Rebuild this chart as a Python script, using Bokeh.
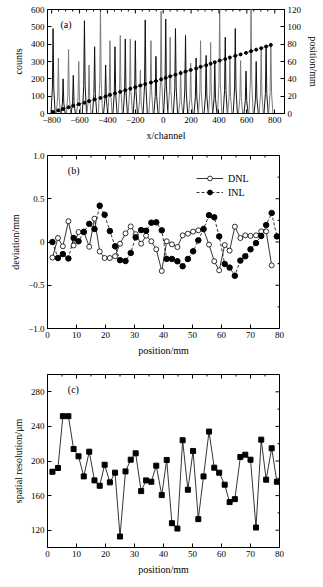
import math
from bokeh.plotting import figure
from bokeh.layouts import column
from bokeh.models import Range1d, LinearAxis, FixedTicker, Legend, LegendItem, Label
from bokeh.embed import file_html
from bokeh.resources import INLINE

FONT = "Liberation Serif"

# ---------------- data ----------------
# panel (a): peak centres (channel) and peak heights (counts)
peak_channels = [-790, -752, -718, -679, -645, -606, -565, -532, -492, -450,
                 -413, -382, -346, -308, -272, -236, -200, -164, -129, -88,
                 -52, -15, 18, 50, 88, 125, 160, 197, 236, 268,
                 308, 340, 370, 405, 445, 478, 517, 555, 594, 630,
                 667, 703, 738, 772]
peak_counts = [490, 320, 200, 370, 220, 300, 535, 280, 385, 610,
               280, 420, 385, 450, 430, 430, 420, 250, 540, 420,
               330, 590, 545, 440, 490, 250, 450, 290, 320, 420,
               335, 410, 290, 610, 440, 330, 490, 305, 245, 610,
               300, 375, 385, 405]

# slit positions (mm)
positions = [1.7, 3.6, 5.3, 7.2, 9.0, 10.7, 12.5, 14.4, 16.2, 18.0,
             19.7, 21.5, 23.3, 25.0, 26.9, 28.7, 30.4, 32.3, 34.0, 35.8,
             37.5, 39.4, 41.1, 42.9, 44.8, 46.6, 48.4, 50.2, 52.0, 53.8,
             55.7, 57.5, 59.2, 61.1, 62.8, 64.6, 66.5, 68.2, 70.0, 71.9,
             73.7, 75.4, 77.3, 79.1]

# panel (b)
dnl = [-0.18, 0.046, -0.05, 0.24, -0.04, 0.115, 0.12, -0.055, 0.27, -0.11,
       -0.185, -0.185, -0.165, -0.02, 0.10, 0.18, 0.09, -0.02, 0.073, 0.008,
       -0.085, -0.335, 0.008, -0.027, -0.058, 0.077, 0.096, 0.12, 0.135, 0.146,
       -0.03, -0.223, -0.327, -0.035, -0.10, 0.177, 0.046, 0.077, 0.07, 0.077,
       0.123, 0.123, -0.27]
inl = [0.0, -0.185, -0.14, -0.19, 0.046, 0.008, 0.115, 0.21, 0.15, 0.42,
       0.315, 0.127, -0.05, -0.21, -0.22, -0.127, 0.054, 0.138, 0.13, 0.223,
       0.227, 0.135, -0.196, -0.196, -0.223, -0.28, -0.196, -0.108, 0.019, 0.15,
       0.31, 0.285, 0.065, -0.254, -0.296, -0.39, -0.215, -0.165, -0.085, -0.012,
       0.07, 0.196, 0.335, 0.065]

# panel (c)
resolution = [187.6, 191.9, 251.8, 251.8, 213.9, 205.4, 182.2, 210.8, 177.6, 171.4,
              195.7, 175.3, 186.5, 112.7, 188.0, 201.5, 208.9, 165.2, 177.6, 176.0,
              194.6, 160.6, 201.2, 128.1, 121.9, 224.0, 166.8, 211.6, 132.8, 182.2,
              234.0, 192.3, 186.5, 172.6, 152.5, 155.9, 204.6, 207.3, 201.5, 123.1,
              224.7, 178.4, 214.7, 176.0]

a_xticks = [-800, -600, -400, -200, 0, 200, 400, 600, 800]
a_yticks = [0, 100, 200, 300, 400, 500, 600]
a_y2ticks = [0, 20, 40, 60, 80, 100, 120]
b_yticks = [-1.0, -0.5, 0.0, 0.5, 1.0]
bc_xticks = [0, 10, 20, 30, 40, 50, 60, 70, 80]
c_yticks = [120, 160, 200, 240, 280]

A_X = (-830, 870)
A_Y = (0, 600)
A_Y2 = (0, 120)
B_X = (0, 80)
B_Y = (-1, 1)
C_Y = (100, 300)


def style_axis(ax):
    ax.axis_line_color = "black"
    ax.axis_line_width = 1
    ax.major_tick_in = 4
    ax.major_tick_out = 0
    ax.minor_tick_in = 2
    ax.minor_tick_out = 0
    ax.major_tick_line_color = "black"
    ax.minor_tick_line_color = "black"
    ax.major_label_text_font = FONT
    ax.major_label_text_font_size = "9px"
    ax.major_label_text_color = "black"
    ax.axis_label_text_font = FONT
    ax.axis_label_text_font_size = "10px"
    ax.axis_label_text_font_style = "normal"
    ax.axis_label_text_color = "black"
    ax.axis_label_standoff = 4
    ax.major_label_standoff = 3


def minors(ticks, n):
    out = []
    for a, b in zip(ticks[:-1], ticks[1:]):
        step = (b - a) / n
        out += [a + step * k for k in range(1, n)]
    return out


def top_ticks(p, ticks, n, yend):
    # mirrored ticks on the top frame edge (clipped dash markers)
    p.scatter(ticks, [yend] * len(ticks), marker="dash", angle=math.pi / 2, size=8,
              line_color="black", line_width=1)
    mt = minors(ticks, n)
    p.scatter(mt, [yend] * len(mt), marker="dash", angle=math.pi / 2, size=4,
              line_color="black", line_width=1)


def right_ticks(p, ticks, n, xend):
    p.scatter([xend] * len(ticks), ticks, marker="dash", size=8,
              line_color="black", line_width=1)
    mt = minors(ticks, n)
    p.scatter([xend] * len(mt), mt, marker="dash", size=4,
              line_color="black", line_width=1)


def minus(v, fmt):
    s = fmt.format(abs(v))
    return ("\u2212" + s) if v < 0 else s


def base_fig(fw, fh, xr, yr, top, bottom, right):
    p = figure(frame_width=fw, frame_height=fh,
               x_range=Range1d(*xr), y_range=Range1d(*yr),
               output_backend="svg", toolbar_location=None,
               min_border_left=47, min_border_right=right,
               min_border_top=top, min_border_bottom=bottom)
    p.xgrid.visible = False
    p.ygrid.visible = False
    p.outline_line_color = "black"
    p.outline_line_width = 1
    return p


# ---------------- panel (a) ----------------
pa = base_fig(237, 104, A_X, A_Y, 9, 32, 37)
pa.extra_y_ranges = {"pos": Range1d(*A_Y2)}

xs, ys, cols = [], [], []
for i, (c, h) in enumerate(zip(peak_channels, peak_counts)):
    xs.append([c - 15, c - 5, c, c + 5, c + 15])
    ys.append([0, 0.3 * h, h, 0.3 * h, 0])
    cols.append("#111111" if i % 2 == 0 else "#7a7a7a")
pa.multi_line(xs=xs, ys=ys, line_color=cols, line_width=1)

pa.line(peak_channels, positions, y_range_name="pos", line_color="#222222",
        line_width=0.8, line_dash="2 2")
pa.scatter(peak_channels, positions, y_range_name="pos", marker="circle", size=3,
           fill_color="black", line_color="black")

pa.xaxis.ticker = FixedTicker(ticks=a_xticks, num_minor_ticks=4)
pa.xaxis.major_label_overrides = {v: minus(v, "{:d}") for v in a_xticks}
pa.xaxis.axis_label = "x/channel"
pa.yaxis.ticker = FixedTicker(ticks=a_yticks, num_minor_ticks=2)
pa.yaxis.axis_label = "counts"
style_axis(pa.xaxis[0])
style_axis(pa.yaxis[0])
ax_r = LinearAxis(y_range_name="pos", ticker=FixedTicker(ticks=a_y2ticks, num_minor_ticks=2),
                  axis_label="position/mm")
style_axis(ax_r)
pa.add_layout(ax_r, "right")
top_ticks(pa, a_xticks, 4, A_Y[1])
pa.add_layout(Label(x=-737, y=513, text="(a)", text_font=FONT, text_font_size="10px",
                    text_baseline="middle", text_color="black"))

# ---------------- panel (b) ----------------
pb = base_fig(232, 173, B_X, B_Y, 10, 36, 42)

dnl_x = positions[:len(dnl)]
r_dl = pb.line(dnl_x, dnl, line_color="black", line_width=0.8)
r_dp = pb.scatter(dnl_x, dnl, marker="circle", size=5, fill_color="white",
                  line_color="black", line_width=0.8)
r_il = pb.line(positions, inl, line_color="black", line_width=0.8, line_dash="3 2")
r_ip = pb.scatter(positions, inl, marker="circle", size=5.5, fill_color="black",
                  line_color="black")

pb.xaxis.ticker = FixedTicker(ticks=bc_xticks, num_minor_ticks=2)
pb.xaxis.axis_label = "position/mm"
pb.yaxis.ticker = FixedTicker(ticks=b_yticks, num_minor_ticks=2)
pb.yaxis.major_label_overrides = {v: ("0" if v == 0 else minus(v, "{:.1f}")) for v in b_yticks}
pb.yaxis.axis_label = "deviation/mm"
style_axis(pb.xaxis[0])
style_axis(pb.yaxis[0])
top_ticks(pb, bc_xticks, 2, B_Y[1])
right_ticks(pb, b_yticks, 2, B_X[1])

leg = Legend(items=[LegendItem(label="DNL", renderers=[r_dl, r_dp]),
                    LegendItem(label="INL", renderers=[r_il, r_ip])],
             location=(147, 128))
leg.glyph_width = 27
leg.glyph_height = 12
leg.label_height = 12
leg.label_standoff = 5
leg.spacing = 2
leg.padding = 2
leg.margin = 0
leg.border_line_alpha = 0
leg.background_fill_alpha = 0
leg.label_text_font = FONT
leg.label_text_font_size = "10px"
leg.label_text_color = "black"
pb.add_layout(leg)
pb.add_layout(Label(x=7.0, y=0.83, text="(b)", text_font=FONT, text_font_size="10px",
                    text_baseline="middle", text_color="black"))

# ---------------- panel (c) ----------------
pc = base_fig(232, 173, B_X, C_Y, 10, 32, 42)

pc.line(positions, resolution, line_color="black", line_width=0.8)
pc.scatter(positions, resolution, marker="square", size=5, fill_color="black",
           line_color="black")

pc.xaxis.ticker = FixedTicker(ticks=bc_xticks, num_minor_ticks=2)
pc.xaxis.axis_label = "position/mm"
pc.yaxis.ticker = FixedTicker(ticks=c_yticks, num_minor_ticks=2)
pc.yaxis.axis_label = "spatial resolution/\u03bcm"
style_axis(pc.xaxis[0])
style_axis(pc.yaxis[0])
top_ticks(pc, bc_xticks, 2, C_Y[1])
right_ticks(pc, c_yticks, 2, B_X[1])
pc.add_layout(Label(x=7.0, y=283, text="(c)", text_font=FONT, text_font_size="10px",
                    text_baseline="middle", text_color="black"))

layout = column(pa, pb, pc, spacing=0)
open("out.html", "w").write(file_html(layout, INLINE))
